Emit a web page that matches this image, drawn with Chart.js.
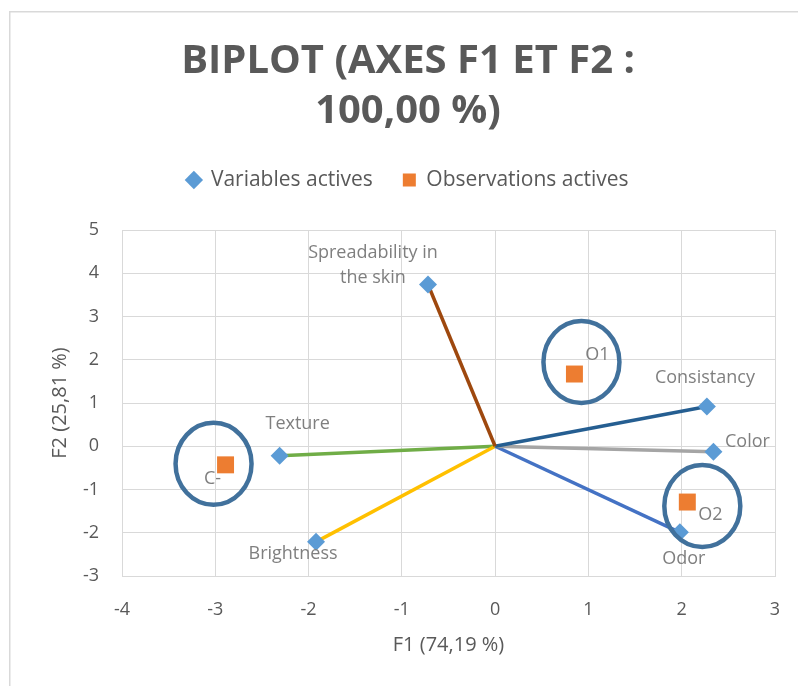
<!DOCTYPE html>
<html>
<head>
<meta charset="utf-8">
<script src="https://cdn.jsdelivr.net/npm/chart.js@4.4.1/dist/chart.umd.min.js"></script>
<style>
  body { margin: 0; background: #ffffff; }
  canvas { display: block; }
</style>
</head>
<body>
<canvas id="myChart" width="798" height="686"></canvas>
<script>
const ctx = document.getElementById('myChart');

// variables actives (F1, F2)
const varNames = [['Spreadability in', 'the skin'], ['Consistancy'], ['Color'], ['Odor'], ['Brightness'], ['Texture']];
const varF1 = [-0.72, 2.27, 2.34, 1.98, -1.92, -2.31];
const varF2 = [3.74, 0.92, -0.13, -1.99, -2.21, -0.22];

// observations actives (F1, F2)
const obsNames = ['O1', 'O2', 'C-'];
const obsF1 = [0.85, 2.06, -2.89];
const obsF2 = [1.67, -1.29, -0.43];

const xTicks = [-4, -3, -2, -1, 0, 1, 2, 3];
const yTicks = [-3, -2, -1, 0, 1, 2, 3, 4, 5];

// styling
const lineColors = ['#9E480E', '#255E91', '#A5A5A5', '#4472C4', '#FFC000', '#70AD47'];
const varLabelOffsets = [[-55, -32], [-2, -29], [34, -10], [4, 27], [-23, 12], [18, -32]];
const obsLabelOffsets = [[23, -19], [23, 13], [-13, 14]];
const circleOffsets = [[7, -12], [15, 4], [-12, -1]];

Chart.defaults.font.family = "'Open Sans', sans-serif";
Chart.defaults.color = '#595959';

let datasets = [
  {
    label: 'Variables actives',
    data: varF1.map((x, i) => ({x: x, y: varF2[i]})),
    pointStyle: 'rectRot',
    pointRadius: 9,
    backgroundColor: '#5B9BD5',
    borderWidth: 0,
    showLine: false
  },
  {
    label: 'Observations actives',
    data: obsF1.map((x, i) => ({x: x, y: obsF2[i]})),
    pointStyle: 'rect',
    pointRadius: 12,
    backgroundColor: '#ED7D31',
    borderWidth: 0,
    showLine: false
  }
];
varF1.forEach((x, i) => {
  datasets.push({
    label: 'vec' + i,
    data: [{x: 0, y: 0}, {x: x, y: varF2[i]}],
    showLine: true,
    borderColor: lineColors[i],
    borderWidth: 3.5,
    pointRadius: 0
  });
});

const frame = {
  id: 'frame',
  beforeDraw(chart) {
    const c = chart.ctx;
    c.save();
    c.strokeStyle = '#D9D9D9';
    c.lineWidth = 1.5;
    c.strokeRect(9.75, 11.75, 900, 900);
    c.restore();
  }
};

const pointLabels = {
  id: 'pointLabels',
  afterDatasetsDraw(chart) {
    const c = chart.ctx;
    c.save();
    c.font = "18px 'Open Sans', sans-serif";
    c.fillStyle = '#7F7F7F';
    c.textAlign = 'center';
    c.textBaseline = 'middle';
    chart.getDatasetMeta(0).data.forEach((pt, i) => {
      const off = varLabelOffsets[i];
      const lines = varNames[i];
      lines.forEach((t, k) => {
        c.fillText(t, pt.x + off[0], pt.y + off[1] + k * 25);
      });
    });
    chart.getDatasetMeta(1).data.forEach((pt, i) => {
      const off = obsLabelOffsets[i];
      c.fillText(obsNames[i], pt.x + off[0], pt.y + off[1]);
    });
    // circles round the observations
    c.strokeStyle = '#41719C';
    c.lineWidth = 4.5;
    chart.getDatasetMeta(1).data.forEach((pt, i) => {
      const off = circleOffsets[i];
      c.beginPath();
      c.ellipse(pt.x + off[0], pt.y + off[1], 38, 41, 0, 0, Math.PI * 2);
      c.stroke();
    });
    c.restore();
  }
};

let chart = new Chart(ctx, {
  type: 'scatter',
  data: { datasets: datasets },
  options: {
    responsive: false,
    animation: false,
    layout: { padding: { left: 41, right: 23, top: 0, bottom: 0 } },
    plugins: {
      title: {
        display: true,
        text: ['BIPLOT (AXES F1 ET F2 :', '100,00 %)'],
        color: '#595959',
        font: { size: 40, weight: 'bold', lineHeight: 1.25 },
        padding: { top: 37, bottom: 2.5 }
      },
      legend: {
        labels: {
          usePointStyle: true,
          boxWidth: 13,
          boxHeight: 13,
          padding: 30,
          color: '#595959',
          font: { size: 21 },
          filter: item => item.datasetIndex < 2
        }
      },
      subtitle: {
        display: true,
        text: '',
        weight: 500,
        font: { size: 10, lineHeight: 1 },
        padding: { top: 0, bottom: 19.5 }
      },
      tooltip: { enabled: false }
    },
    scales: {
      x: {
        type: 'linear',
        min: -4,
        max: 3,
        afterBuildTicks: scale => { scale.ticks = xTicks.map(v => ({value: v})); },
        afterFit: scale => {
          scale.height = 110;
          scale.paddingLeft = 0;
          scale.paddingRight = 0;
        },
        grid: { color: '#D9D9D9', drawTicks: false },
        border: { color: '#D9D9D9' },
        ticks: { padding: 23, color: '#595959', font: { size: 18 } },
        title: { display: true, text: 'F1 (74,19 %)', color: '#595959', font: { size: 20 }, padding: { top: 0, bottom: 29 } }
      },
      y: {
        type: 'linear',
        min: -3,
        max: 5,
        afterBuildTicks: scale => { scale.ticks = yTicks.map(v => ({value: v})); },
        afterFit: scale => { scale.width = 81; },
        grid: { color: '#D9D9D9', drawTicks: false },
        border: { color: '#D9D9D9' },
        ticks: { padding: 23, color: '#595959', font: { size: 18 } },
        title: { display: true, text: 'F2 (25,81 %)', color: '#595959', font: { size: 20 }, padding: { top: 7, bottom: 0 } }
      }
    }
  },
  plugins: [frame, pointLabels]
});
</script>
</body>
</html>
